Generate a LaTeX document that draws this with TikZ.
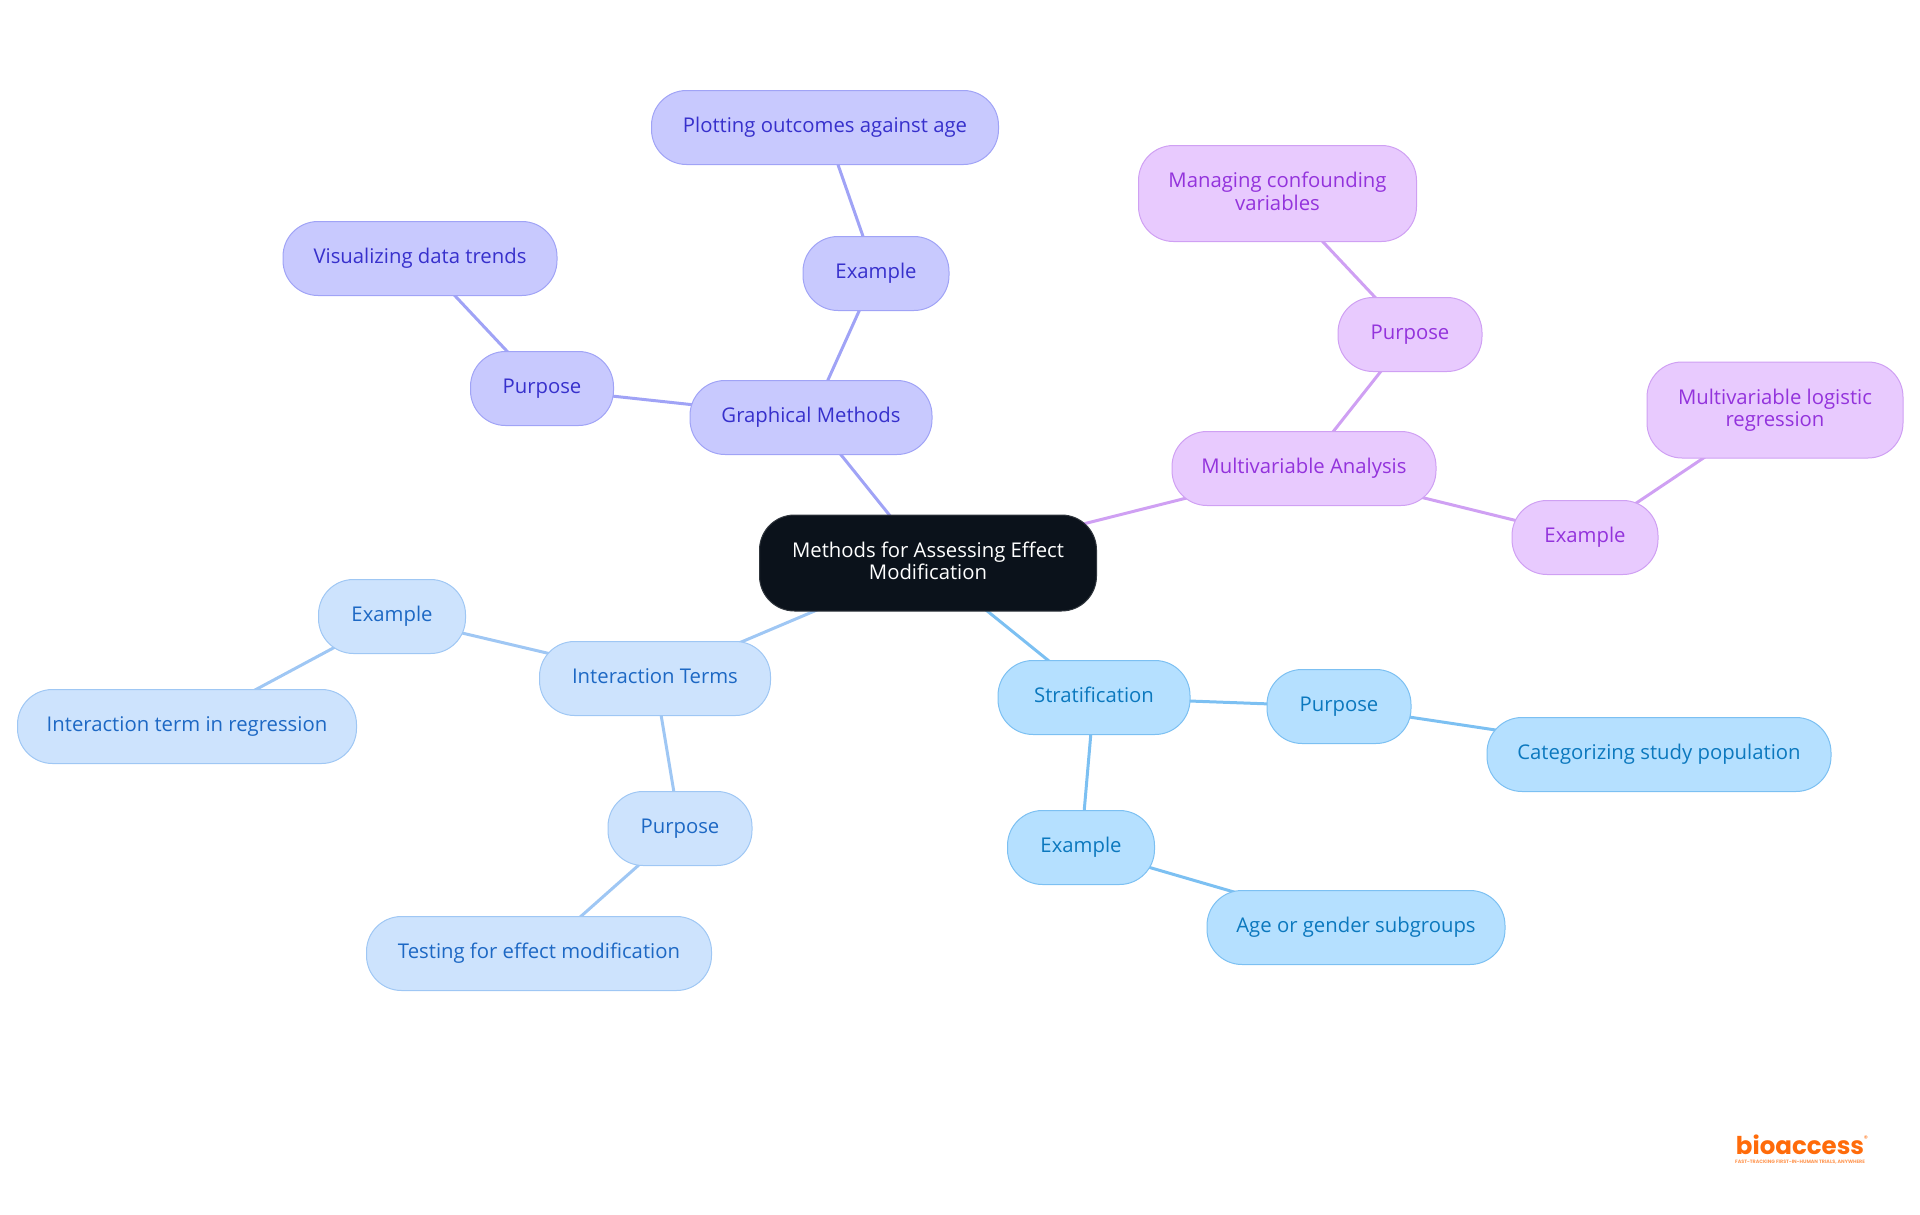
\documentclass[tikz,border=0pt]{standalone}
\usepackage{fontspec}
\setmainfont{Open Sans}
\newfontfamily\logofont{Poppins}
\usetikzlibrary{backgrounds}
\definecolor{rootfill}{HTML}{0B121B}
\definecolor{gmfill}{HTML}{C8C9FE}
\definecolor{gmline}{HTML}{A0A3F6}
\definecolor{gmtext}{HTML}{3730CC}
\definecolor{mvfill}{HTML}{E8CAFE}
\definecolor{mvline}{HTML}{CFA0F3}
\definecolor{mvtext}{HTML}{9333DC}
\definecolor{itfill}{HTML}{CDE3FD}
\definecolor{itline}{HTML}{9FC7F4}
\definecolor{ittext}{HTML}{1D68C4}
\definecolor{stfill}{HTML}{B5E0FF}
\definecolor{stline}{HTML}{7CC0F2}
\definecolor{sttext}{HTML}{0B78BE}
\definecolor{logoorange}{HTML}{FF6B0A}
\newcommand{\lowline}{\vphantom{gp}}
\tikzset{
  box/.style={draw, line width=1pt, rounded corners=35pt, inner sep=0pt, align=center, yshift=-0.5pt,
    minimum height=74pt, font=\fontsize{20.3}{22.5}\selectfont},
  tall/.style={box, minimum height=96pt},
  rootbox/.style={tall, fill=rootfill, draw=rootfill!85!white, text=white},
  gmbox/.style={box, fill=gmfill, draw=gmline, text=gmtext},
  mvbox/.style={box, fill=mvfill, draw=mvline, text=mvtext},
  itbox/.style={box, fill=itfill, draw=itline, text=ittext},
  stbox/.style={box, fill=stfill, draw=stline, text=sttext},
  link/.style={line width=3pt}
}
\begin{document}
\begin{tikzpicture}[x=1pt,y=-1pt]
  \useasboundingbox (0,0) rectangle (1920,1215);
  \node[rootbox, minimum width=337pt] (root) at (928,562.5) {Methods for Assessing Effect\\Modification\lowline};

  \node[gmbox, minimum width=242pt] (graph) at (811,417) {Graphical Methods\lowline};
  \node[gmbox, minimum width=146pt] (graphex) at (876,273) {Example\lowline};
  \node[gmbox, minimum width=347pt] (graphexleaf) at (825,127) {Plotting outcomes against age\lowline};
  \node[gmbox, minimum width=143pt] (graphpur) at (542,388) {Purpose\lowline};
  \node[gmbox, minimum width=274pt] (graphpurleaf) at (420,258) {Visualizing data trends\lowline};

  \node[mvbox, minimum width=264pt] (multi) at (1304,468) {Multivariable Analysis\lowline};
  \node[mvbox, minimum width=144pt] (multipur) at (1410,334) {Purpose\lowline};
  \node[mvbox, tall, minimum width=278pt] (multipurleaf) at (1277.5,192.5) {Managing confounding\\variables\lowline};
  \node[mvbox, minimum width=146pt] (multiex) at (1585,537) {Example\lowline};
  \node[mvbox, tall, minimum width=256pt] (multiexleaf) at (1775,409) {Multivariable logistic\\regression\lowline};

  \node[itbox, minimum width=231pt] (inter) at (655,678) {Interaction Terms\lowline};
  \node[itbox, minimum width=147pt] (interex) at (392,616) {Example\lowline};
  \node[itbox, minimum width=339pt] (interexleaf) at (187,726) {Interaction term in regression\lowline};
  \node[itbox, minimum width=144pt] (interpur) at (680,828) {Purpose\lowline};
  \node[itbox, minimum width=345pt] (interpurleaf) at (539,953) {Testing for effect modification\lowline};

  \node[stbox, minimum width=192pt] (strat) at (1094,697) {Stratification\lowline};
  \node[stbox, minimum width=144pt] (stratpur) at (1339,706) {Purpose\lowline};
  \node[stbox, minimum width=344pt] (stratpurleaf) at (1659,754) {Categorizing study population\lowline};
  \node[stbox, minimum width=147pt] (stratex) at (1081,847) {Example\lowline};
  \node[stbox, minimum width=298pt] (stratexleaf) at (1356,927) {Age or gender subgroups\lowline};

  \begin{scope}[on background layer]
    \draw[link, gmline] (root.center) -- (graph.center);
    \draw[link, gmline] (graph.center) -- (graphex.center);
    \draw[link, gmline] (graphex.center) -- (graphexleaf.center);
    \draw[link, gmline] (graph.center) -- (graphpur.center);
    \draw[link, gmline] (graphpur.center) -- (graphpurleaf.center);
    \draw[link, mvline] (root.center) -- (multi.center);
    \draw[link, mvline] (multi.center) -- (multipur.center);
    \draw[link, mvline] (multipur.center) -- (multipurleaf.center);
    \draw[link, mvline] (multi.center) -- (multiex.center);
    \draw[link, mvline] (multiex.center) -- (multiexleaf.center);
    \draw[link, itline] (root.center) -- (inter.center);
    \draw[link, itline] (inter.center) -- (interex.center);
    \draw[link, itline] (interex.center) -- (interexleaf.center);
    \draw[link, itline] (inter.center) -- (interpur.center);
    \draw[link, itline] (interpur.center) -- (interpurleaf.center);
    \draw[link, stline] (root.center) -- (strat.center);
    \draw[link, stline] (strat.center) -- (stratpur.center);
    \draw[link, stline] (stratpur.center) -- (stratpurleaf.center);
    \draw[link, stline] (strat.center) -- (stratex.center);
    \draw[link, stline] (stratex.center) -- (stratexleaf.center);
  \end{scope}

  % logo
  \node[inner sep=0pt, text=logoorange, font=\logofont\bfseries\fontsize{24.5}{26}\selectfont] (logo) at (1800,1145) {bioaccess};
  \node[inner sep=0pt, text=logoorange, font=\logofont\fontsize{8}{8}\selectfont] (logoreg) at (1866,1139) {®};
  \node[inner sep=0pt, text=logoorange!70!white, font=\logofont\bfseries\fontsize{4.8}{5}\selectfont] (logotag) at (1800,1162) {FAST-TRACKING FIRST-IN-HUMAN TRIALS, ANYWHERE};
\end{tikzpicture}
\end{document}
